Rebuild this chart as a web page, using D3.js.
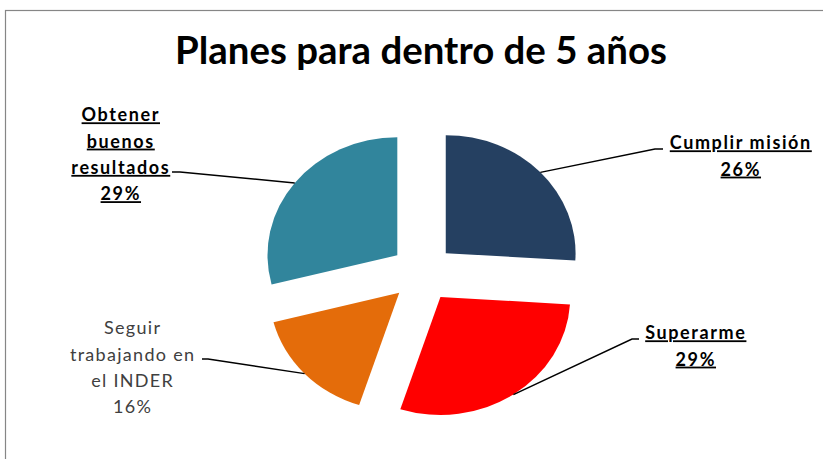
<!DOCTYPE html>
<html><head><meta charset="utf-8">
<script src="https://cdn.jsdelivr.net/npm/d3@7"></script>
<style>
html,body{margin:0;padding:0;background:#fff;}
svg{display:block;}
text{font-family:Lato,"Open Sans",sans-serif;}
</style></head>
<body><svg id="chart" width="823" height="459"></svg>
<script>
// ---- data ----
const title = "Planes para dentro de 5 años";
const categories = ["Cumplir misión", "Superarme", "Seguir trabajando en el INDER", "Obtener buenos resultados"];
const values = [26, 29, 16, 29];
const palette = ["#254061", "#FF0000", "#E46C0A", "#31859C"];

// ---- layout ----
const W = 823, H = 459;
const cx = 422.5, cy = 273, r = 118, sx = 1.1, explode = 29;
const labelCfg = [
  {lines:["Cumplir misión","26%"], x:740, y:143, bold:true, elbow:[655,149], end:663},
  {lines:["Superarme","29%"], x:695, y:333, bold:true, elbow:[632,339], end:639},
  {lines:["Seguir","trabajando en","el INDER","16%"], x:132, y:328, bold:false, elbow:[208,359], end:202},
  {lines:["Obtener","buenos","resultados","29%"], x:120, y:115, bold:true, elbow:[180,172], end:172}
];
const lineH = 26.3;

const svg = d3.select("#chart");
svg.append("rect").attr("x",5.5).attr("y",10.5).attr("width",W).attr("height",H)
  .attr("fill","#fff").attr("stroke","#868686").attr("stroke-width",1.2);

const t = svg.append("text").attr("x",421).attr("y",64).attr("text-anchor","middle")
  .attr("font-weight","bold").attr("font-size",36).attr("fill","#000").text(title);
const tw = t.node().getComputedTextLength();
t.attr("font-size", 36*492/tw);

const pie = d3.pie().sort(null).value(d=>d).startAngle(0).endAngle(2*Math.PI);
const arcs = pie(values);
const arc = d3.arc().innerRadius(0).outerRadius(r);

const g = svg.append("g").attr("transform",`translate(${cx},${cy}) scale(${sx},1)`);
g.selectAll("path").data(arcs).join("path")
  .attr("transform", d => { const m=(d.startAngle+d.endAngle)/2; return `translate(${explode*Math.sin(m)},${-explode*Math.cos(m)})`; })
  .attr("d", arc)
  .attr("fill", (d,i)=>palette[i]);

// leader lines
arcs.forEach((d,i)=>{
  const m=(d.startAngle+d.endAngle)/2;
  const ex = cx + sx*(r+explode)*Math.sin(m), ey = cy - (r+explode)*Math.cos(m);
  const c = labelCfg[i];
  svg.append("polyline")
    .attr("points", `${ex},${ey} ${c.elbow[0]},${c.elbow[1]} ${c.end},${c.elbow[1]}`)
    .attr("fill","none").attr("stroke","#000").attr("stroke-width",1.5);
});

// labels
labelCfg.forEach((c,i)=>{
  const ls = c.bold ? 1.6 : 1.3;
  const txt = svg.append("text").attr("text-anchor","middle")
    .attr("font-size",18).attr("font-weight", c.bold?"bold":"normal")
    .attr("letter-spacing", ls)
    .attr("fill", c.bold?"#000":"#404040")
    .style("text-decoration", c.bold?"underline":"none");
  c.lines.forEach((ln,j)=>{
    txt.append("tspan").attr("x",c.x + ls/2).attr("y",c.y + j*lineH).attr("dy","0.35em").text(ln);
  });
});
</script></body></html>
